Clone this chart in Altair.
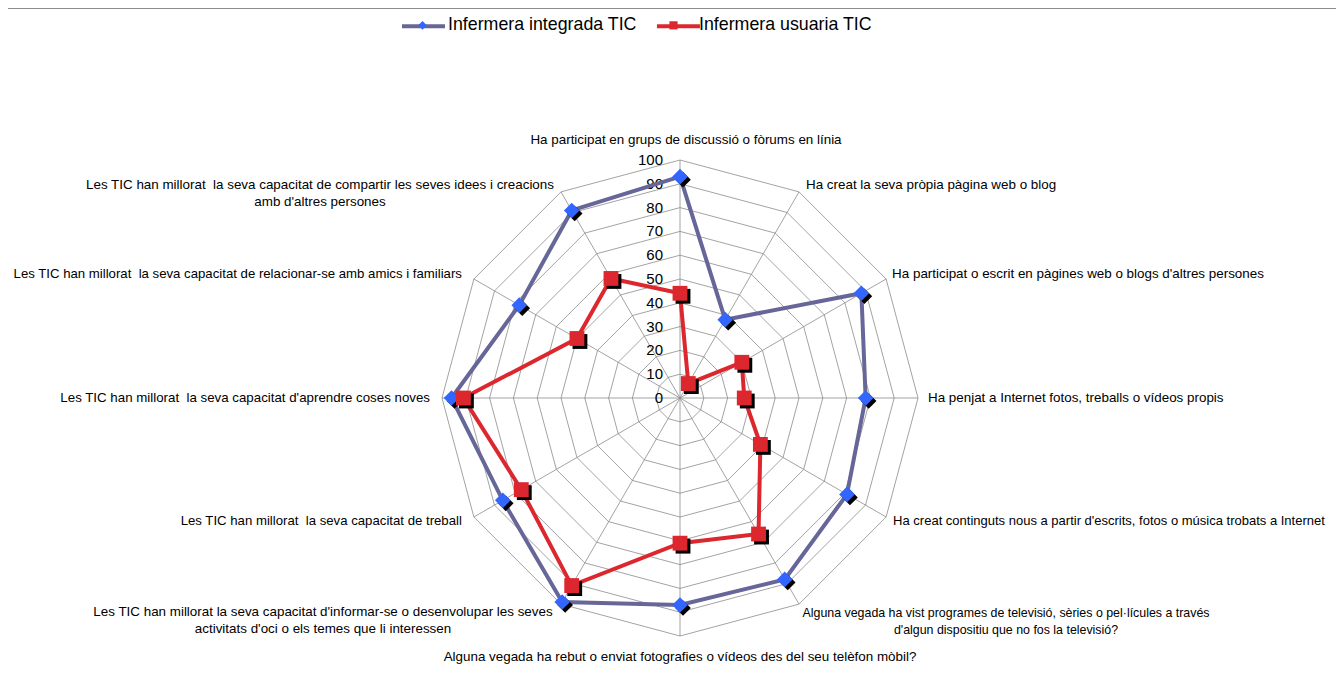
import altair as alt
import pandas as pd

categories = [
    "Ha participat en grups de discussió o fòrums en línia",
    "Ha creat la seva pròpia pàgina web o blog",
    "Ha participat o escrit en pàgines web o blogs d'altres persones",
    "Ha penjat a Internet fotos, treballs o vídeos propis",
    "Ha creat continguts nous a partir d'escrits, fotos o música trobats a Internet",
    "Alguna vegada ha vist programes de televisió, sèries o pel·lícules a través\nd'algun dispositiu que no fos la televisió?",
    "Alguna vegada ha rebut o enviat fotografies o vídeos des del seu telèfon mòbil?",
    "Les TIC han millorat la seva capacitat d'informar-se o desenvolupar les seves\nactivitats d'oci o els temes que li interessen",
    "Les TIC han millorat\u00a0 la seva capacitat de treball",
    "Les TIC han millorat\u00a0 la seva capacitat d'aprendre coses noves",
    "Les TIC han millorat\u00a0 la seva capacitat de relacionar-se amb amics i familiars",
    "Les TIC han millorat\u00a0 la seva capacitat de compartir les seves idees i creacions\namb d'altres persones",
]
series_names = ["Infermera integrada TIC", "Infermera usuaria TIC"]
integrada = [93, 38, 88, 78, 81, 88, 87, 99, 86, 96, 78, 91]
usuaria = [44, 7, 30, 27, 39, 66, 61, 91, 77, 91, 50, 58]
ticks = [0, 10, 20, 30, 40, 50, 60, 70, 80, 90, 100]

n = len(categories)

# ---- tables built from the arrays ----
rows = []
for name, vals in zip(series_names, [integrada, usuaria]):
    for i in range(n + 1):
        rows.append({"series": name, "idx": i, "value": vals[i % n]})
series_df = pd.DataFrame(rows)

grid_df = pd.DataFrame(
    [{"level": lv, "idx": i, "value": lv} for lv in ticks[1:] for i in range(n + 1)]
)
spoke_df = pd.DataFrame({"idx": list(range(n)), "value": [ticks[-1]] * n})
tick_df = pd.DataFrame({"tick": ticks})
cat_df = pd.DataFrame({"label": categories, "idx": list(range(n)), "value": [ticks[-1]] * n})

PX = 2.38  # pixels per unit
W, H = 1328, 660
CX, CY = 672, 390
xdom = [-CX / PX, (W - CX) / PX]
ydom = [-(H - CY) / PX, CY / PX]

xs = alt.Scale(domain=xdom, nice=False, zero=False)
ys = alt.Scale(domain=ydom, nice=False, zero=False)
X = alt.X("x:Q", scale=xs, axis=None)
Y = alt.Y("y:Q", scale=ys, axis=None)


def to_xy(ch):
    return ch.transform_calculate(
        x="datum.value * sin(datum.idx * PI / 6)",
        y="datum.value * cos(datum.idx * PI / 6)",
    )


GRID = "#8c8c8c"
BLUE_LINE, BLUE_MARK, RED = "#666699", "#3366FF", "#DD272E"

rings = to_xy(alt.Chart(grid_df)).mark_line(color=GRID, strokeWidth=0.8).encode(
    x=X, y=Y, detail="level:N", order="idx:Q"
)

spokes = to_xy(alt.Chart(spoke_df)).transform_calculate(x0="0", y0="0").mark_rule(
    color=GRID, strokeWidth=0.8
).encode(
    x=alt.X("x0:Q", scale=xs, axis=None),
    y=alt.Y("y0:Q", scale=ys, axis=None),
    x2="x:Q",
    y2="y:Q",
)

tick_labels = alt.Chart(tick_df).transform_calculate(x="0", y="datum.tick").mark_text(
    align="right", baseline="middle", dx=-17, fontSize=15, font="Liberation Sans", color="#000"
).encode(x=X, y=Y, text="tick:Q")

LEG_FONT = 17.8
legend_common = dict(
    orient="none",
    legendX=392,
    legendY=-5.5,
    direction="horizontal",
    title=None,
    symbolSize=1849,
    labelFont="Liberation Sans",
    labelFontSize=LEG_FONT,
    labelColor="#000",
    labelLimit=500,
    labelOffset=3,
    padding=0,
)
# width of the first legend label (Liberation Sans advance widths, em units) -> spacing of the line legend
first_label_em = 10.615

lines = to_xy(alt.Chart(series_df)).mark_line(strokeWidth=4).encode(
    x=X,
    y=Y,
    order="idx:Q",
    stroke=alt.Stroke(
        "series:N",
        scale=alt.Scale(range=[BLUE_LINE, RED]),
        legend=alt.Legend(
            symbolType="stroke", symbolStrokeWidth=4, labelExpr="''",
            columnPadding=8 - 1 + first_label_em * LEG_FONT, **legend_common
        ),
    ),
)

# marker shapes (the invisible move-to points give the legend symbol the same extent as the line symbol)
diamond = "M-1.186,0M1.186,0M0,-0.2L0.2,0L0,0.2L-0.2,0Z"
square = "M-1.186,0M1.186,0M-0.19,-0.19H0.19V0.19H-0.19Z"
shape_scale = alt.Scale(range=[diamond, square])

marker_base = to_xy(alt.Chart(series_df)).transform_filter(f"datum.idx < {n}").transform_calculate(
    grp="datum.series"
)

shadow_layers = []
for name, shp in zip(series_names, [diamond, square]):
    shadow_layers.append(
        marker_base.transform_filter(alt.datum.series == name).mark_point(
            filled=True, size=6100, shape=shp, color="#000", opacity=1, strokeWidth=0,
            xOffset=3, yOffset=3,
        ).encode(x=X, y=Y)
    )

markers = marker_base.mark_point(filled=True, size=6100, opacity=1, strokeWidth=0).encode(
    x=X,
    y=Y,
    fill=alt.Fill("grp:N", scale=alt.Scale(range=[BLUE_MARK, RED]),
                  legend=alt.Legend(columnPadding=8, **legend_common)),
    shape=alt.Shape("grp:N", scale=shape_scale, legend=alt.Legend(columnPadding=8, **legend_common)),
)

# category labels: (align, dx, dy, fontSize)
label_pos = [
    ("center", 6, -20, 13.4),
    ("left", 7, -7, 13.4),
    ("left", 6, -5, 13.4),
    ("left", 10, 0, 13.4),
    ("left", 7, 4, 13.0),
    ("center", 207, 9, 12.4),
    ("center", 0, 21, 13.4),
    ("center", -238, 8, 13.4),
    ("right", -12, 4, 13.2),
    ("right", -12, 0, 13.3),
    ("right", -12, -5, 13.2),
    ("center", -241, -7, 13.4),
]
cat_base = to_xy(alt.Chart(cat_df))
cat_layers = []
for i, (al, dx, dy, fs) in enumerate(label_pos):
    cat_layers.append(
        cat_base.transform_filter(f"datum.idx == {i}").mark_text(
            align=al, baseline="middle", dx=dx, dy=dy, fontSize=fs, font="Liberation Sans",
            color="#000", lineBreak="\n", lineHeight=17,
        ).encode(x=X, y=Y, text="label:N")
    )

border = alt.Chart(pd.DataFrame({"a": [0]})).mark_rule(color="#8c8c8c", strokeWidth=1).encode(
    x=alt.value(0), x2=alt.value(W), y=alt.value(0.5)
)

chart = alt.layer(
    border, rings, spokes, tick_labels, *cat_layers, lines, *shadow_layers, markers
).properties(
    width=W, height=H, padding=0, autosize=alt.AutoSizeParams(type="none")
).configure_view(stroke=None)

chart.save("out.html", embed_options={"renderer": "svg", "actions": False})
